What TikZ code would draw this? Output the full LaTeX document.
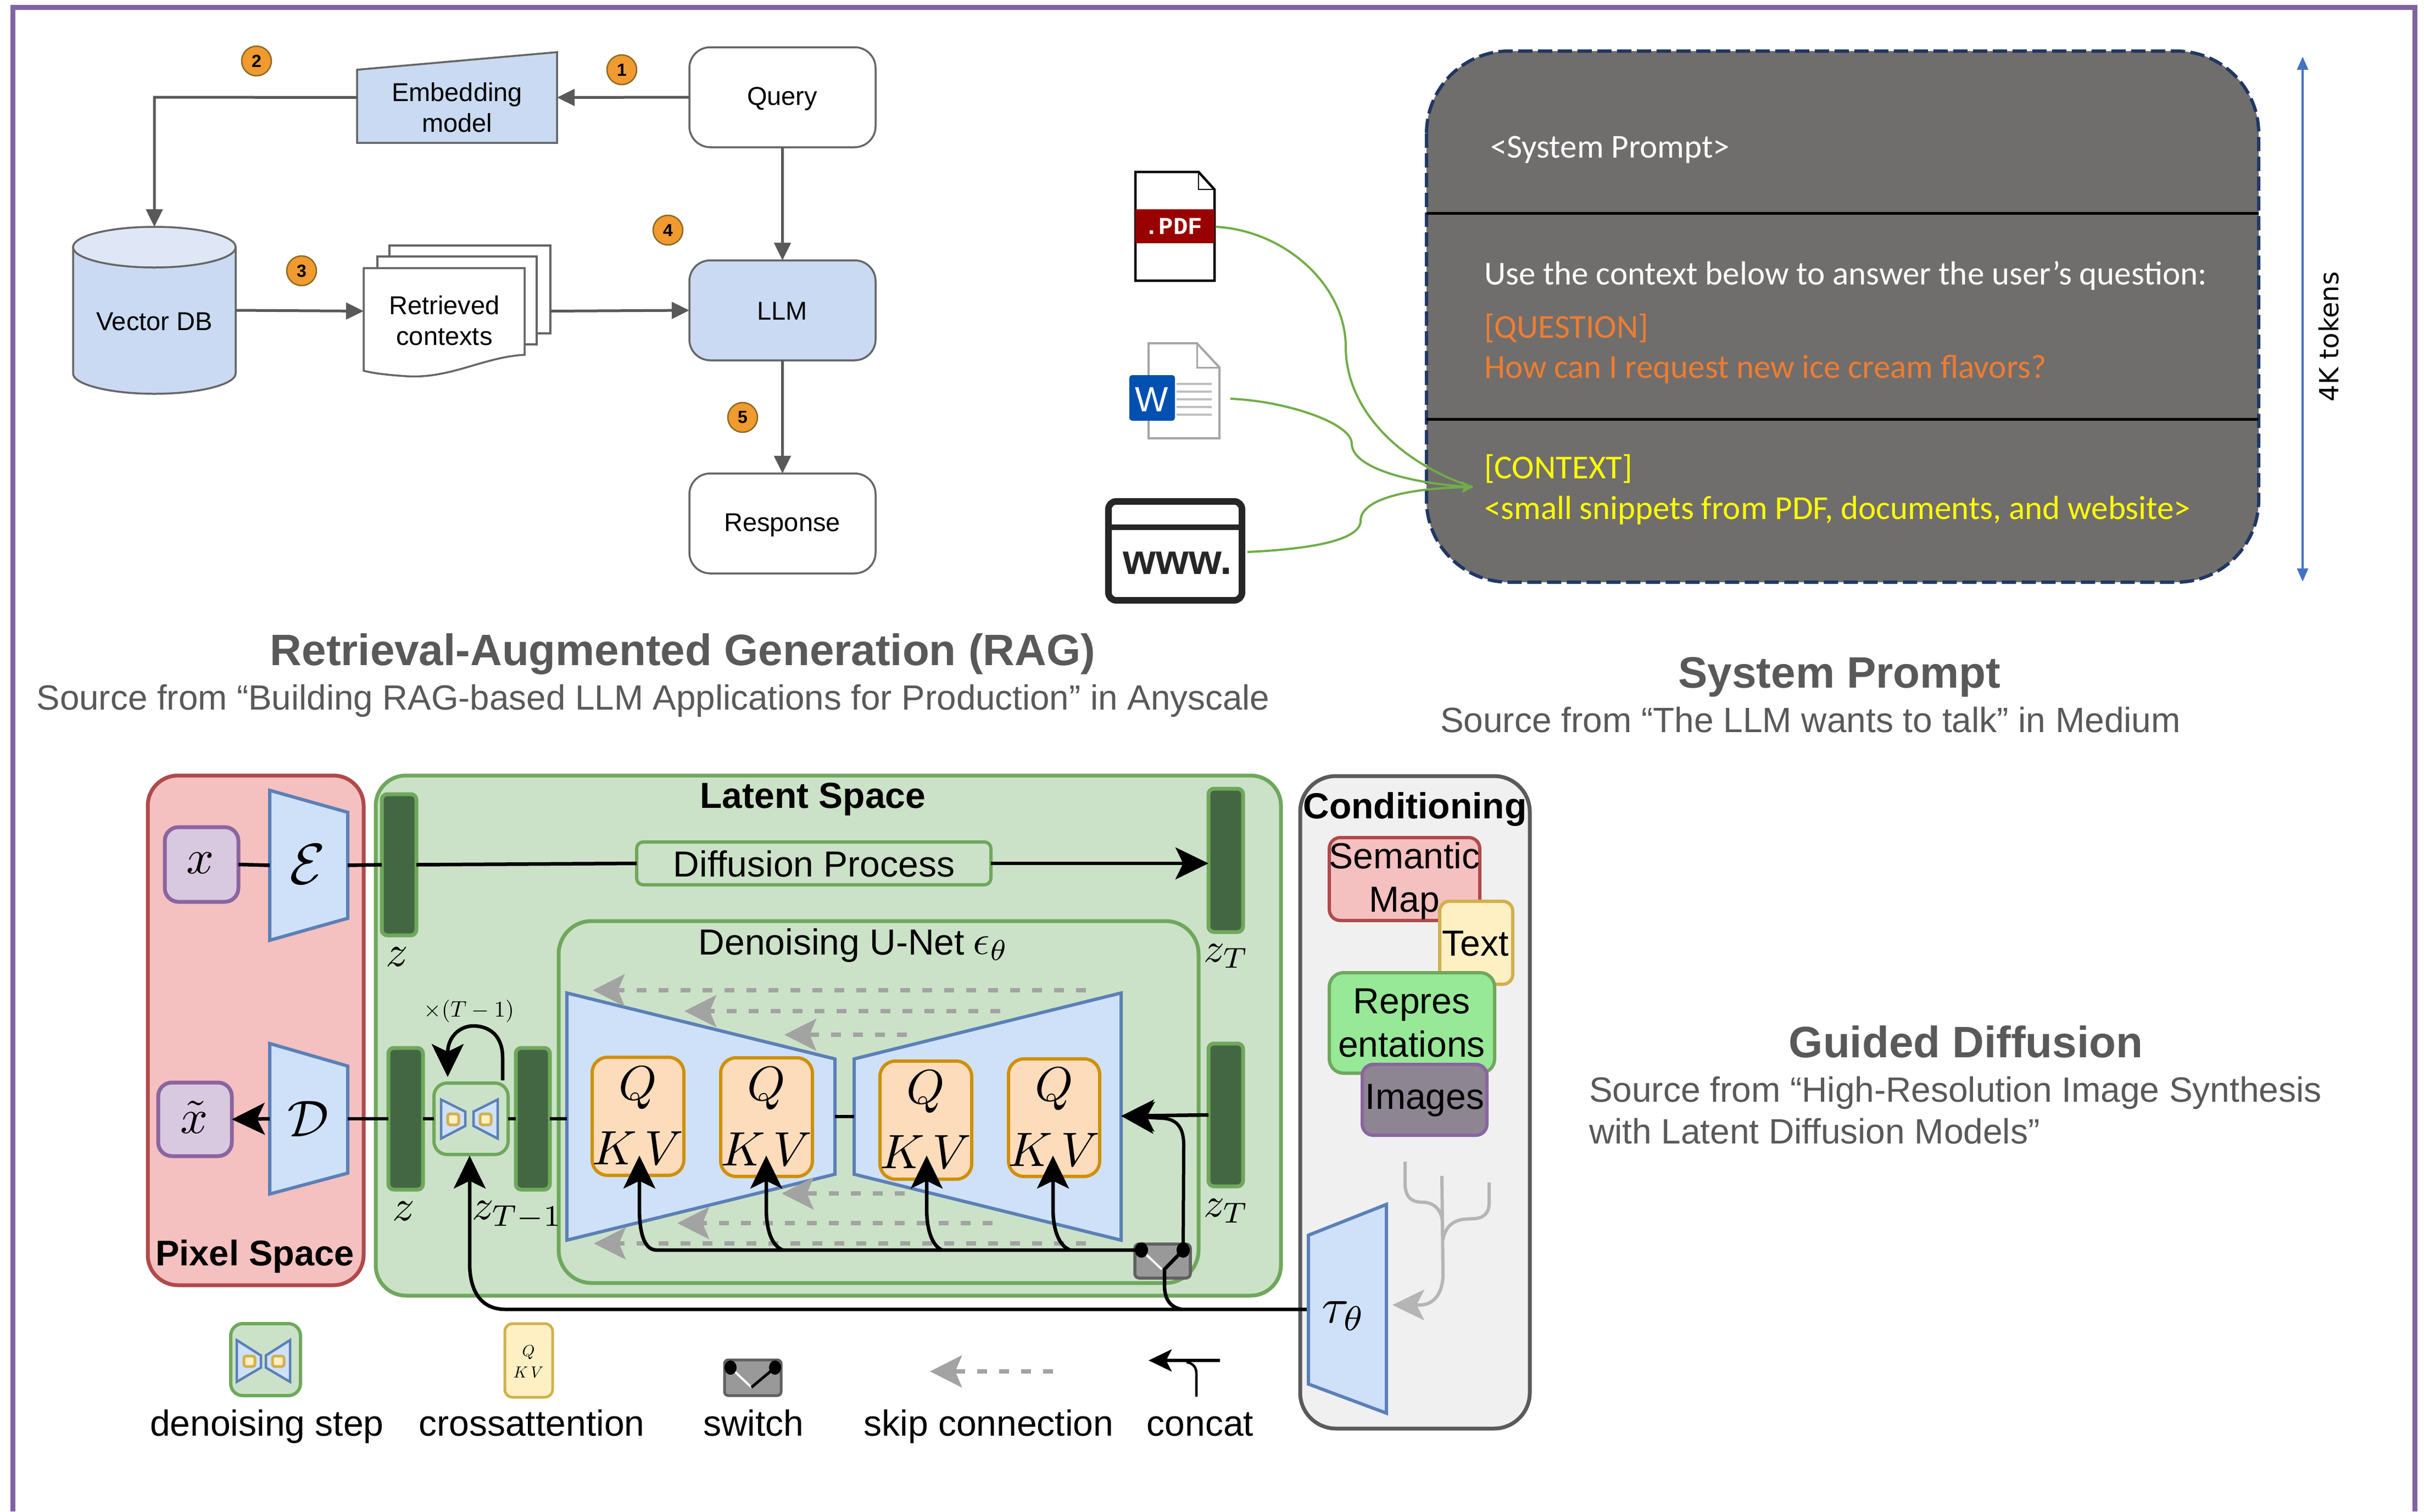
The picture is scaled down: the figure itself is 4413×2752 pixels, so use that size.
\documentclass[tikz,border=0pt]{standalone}
\usepackage{fontspec}
\setmainfont{Liberation Sans}
\newfontfamily\carl{Carlito}
\newfontfamily\dejav{DejaVu Sans}
\newfontfamily\limono{Liberation Mono}
\usetikzlibrary{arrows.meta,fit}
\definecolor{framec}{HTML}{8064A2}
\definecolor{ragblue}{HTML}{C9DAF2}
\definecolor{ragtop}{HTML}{DFE7F6}
\definecolor{ragline}{HTML}{595959}
\definecolor{ragedge}{HTML}{666666}
\definecolor{badge}{HTML}{F09A2F}
\definecolor{badgee}{HTML}{8A6A20}
\definecolor{titlec}{HTML}{595959}
\definecolor{promptfill}{HTML}{706D6D}
\definecolor{promptedge}{HTML}{1F3864}
\definecolor{qorange}{HTML}{ED7D31}
\definecolor{cyellow}{HTML}{FFFF00}
\definecolor{tokblue}{HTML}{4472C4}
\definecolor{curvegreen}{HTML}{70AD47}
\definecolor{pixfill}{HTML}{F5C0C0}
\definecolor{pixedge}{HTML}{B04A4A}
\definecolor{latfill}{HTML}{CCE2C8}
\definecolor{latedge}{HTML}{6FA85C}
\definecolor{purfill}{HTML}{D9C9E0}
\definecolor{puredge}{HTML}{8A65A0}
\definecolor{trapfill}{HTML}{CFE1F8}
\definecolor{trapedge}{HTML}{5B80B8}
\definecolor{barfill}{HTML}{446743}
\definecolor{qfill}{HTML}{FDDCBC}
\definecolor{qedge}{HTML}{CF9008}
\definecolor{txtfill}{HTML}{FFF0C4}
\definecolor{txtedge}{HTML}{D2B04C}
\definecolor{repfill}{HTML}{97E897}
\definecolor{imgfill}{HTML}{8D8591}
\definecolor{condfill}{HTML}{F0F0F0}
\definecolor{condedge}{HTML}{5A5A5A}
\definecolor{skipc}{HTML}{A3A3A3}
\definecolor{treec}{HTML}{B5B5B5}
\definecolor{swfill}{HTML}{999999}
\definecolor{swedge}{HTML}{606060}
\newcommand{\fz}[1]{\fontsize{#1}{#1}\selectfont}
\tikzset{
  every node/.style={inner sep=0pt,outer sep=0pt},
  ragbox/.style={draw=ragedge,line width=3.5pt,rounded corners=38pt,fit={#1}},
  ragtxt/.style={font=\fz{47},align=center},
  ragarrow/.style={draw=ragline,line width=5pt,-{Triangle[length=32pt,width=30pt]}},
  ragpoly/.style={draw=ragedge,line width=3.5pt},
  badgec/.style={circle,draw=badgee,line width=2.5pt,fill=badge,minimum size=54pt,font=\fz{32}\bfseries},
  titlebig/.style={text=titlec,font=\fz{80}\bfseries,anchor=base},
  titlesrc/.style={text=titlec,font=\fz{64}},
  titlesrcb/.style={text=titlec,font=\fz{63.7}},
  sys/.style={font=\carl\fz{61},anchor=base west},
  gcurve/.style={draw=curvegreen,line width=4pt},
  panel/.style={draw=#1,line width=7pt},
  trap/.style={draw=trapedge,fill=trapfill,line width=6pt},
  blk/.style={draw=black,line width=6.5pt},
  blkarrow/.style={blk,-{Stealth[length=60pt,width=58pt,inset=14pt]}},
  skipline/.style={draw=skipc,line width=8pt,dash pattern=on 18pt off 22pt,-{Stealth[length=58pt,width=58pt,inset=12pt,color=skipc]}},
  latentbar/.style={draw=latedge,fill=barfill,line width=7pt,rounded corners=10pt,fit={#1}},
  qbox/.style={draw=qedge,fill=qfill,line width=6pt,rounded corners=28pt,fit={#1}},
  mth/.style={scale=#1},
  cnd/.style={font=\fz{66},align=center},
  lgd/.style={font=\fz{66},anchor=base},
  treeline/.style={draw=treec,line width=6pt},
}
\begin{document}
\begin{tikzpicture}[x=1pt,y=-1pt]
\useasboundingbox (0,0) rectangle (4413,2752);
\fill[white] (0,0) rectangle (4413,2752);
% frame
\coordinate (fa) at (23,2752);\coordinate (fb) at (23,13);\coordinate (fc) at (4396,13);\coordinate (fd) at (4396,2752);
\draw[framec,line width=9pt] (fa) -- (fb) -- (fc) -- (fd);

% ---------- RAG ----------
\node[ragbox={(1255,86)(1594,268)}] (query) {};
\node[ragtxt] (queryt) at (1424,180) {Query};
\node[ragbox={(1255,474)(1594,656)},fill=ragblue] (llm) {};
\node[ragtxt] (llmt) at (1424,566) {LLM};
\node[ragbox={(1255,862)(1594,1044)}] (resp) {};
\node[ragtxt] (respt) at (1424,956) {Response};
\draw[ragpoly,fill=ragblue] (650,127) -- (1014,95) -- (1014,260) -- (650,260) -- cycle;
\node[fit={(650,95)(1014,260)}] (emb) {};
\node[ragtxt] (embt) at (832,196) {Embedding\\[9pt]model};
% cylinder
\draw[ragpoly,fill=ragblue] (133,450) -- (133,680) .. controls (133,700) and (200,717) .. (281,717) .. controls (362,717) and (429,700) .. (429,680) -- (429,450) -- cycle;
\draw[ragpoly,fill=ragtop] (281,450) ellipse [x radius=148,y radius=37];
\node[fit={(133,413)(429,717)}] (db) {};
\node[ragtxt] (dbt) at (281,586) {Vector DB};
% pages
\draw[ragpoly,fill=white] (709,447) -- (1002,447) -- (1002,607) -- (709,607) -- cycle;
\draw[ragpoly,fill=white] (687,467) -- (977,467) -- (977,627) -- (687,627) -- cycle;
\draw[ragpoly,fill=white] (662,488) -- (955,488) -- (955,646) .. controls (880,650) and (820,690) .. (740,685) .. controls (710,683) and (680,680) .. (662,675) -- cycle;
\node[fit={(662,447)(1002,686)}] (ctx) {};
\node[ragtxt] (ctxt) at (809,584) {Retrieved\\[9pt]contexts};
\coordinate (bend) at (281,177);
\draw[ragarrow] (query.west) -- (emb.east);
\draw[draw=ragline,line width=5pt,-{Triangle[length=32pt,width=30pt]}] (emb.west) -- (bend) -- (db.north);
\draw[ragarrow] (db.east) -- (ctx.west);
\draw[ragarrow] (ctx.east) -- (llm.west);
\draw[ragarrow] (query.south) -- (llm.north);
\draw[ragarrow] (llm.south) -- (resp.north);
\node[badgec] (b1) at (1132,127) {1};
\node[badgec] (b2) at (467,111) {2};
\node[badgec] (b3) at (549,493) {3};
\node[badgec] (b4) at (1216,419) {4};
\node[badgec] (b5) at (1352,760) {5};
\node[titlebig] (t1) at (1243,1211) {Retrieval-Augmented Generation (RAG)};
\node[titlesrcb,anchor=base] (s1) at (1189,1292) {Source from “Building RAG-based LLM Applications for Production” in Anyscale};

% ---------- System prompt ----------
\draw[promptedge,fill=promptfill,line width=6pt,dash pattern=on 26pt off 10pt,rounded corners=150pt] (2597,93) rectangle (4112,1060);
\node[fit={(2597,93)(4112,1060)}] (sp) {};
\coordinate (l1a) at (2597,388);\coordinate (l1b) at (4112,388);\coordinate (l2a) at (2597,763);\coordinate (l2b) at (4112,763);
\draw[black,line width=5pt] (l1a) -- (l1b);
\draw[black,line width=5pt] (l2a) -- (l2b);
\node[sys,text=white] (p1) at (2713,287) {<System Prompt>};
\node[sys,text=white] (p2) at (2702,518) {Use the context below to answer the user’s question:};
\node[sys,text=qorange] (p3) at (2702,615) {[QUESTION]};
\node[sys,text=qorange] (p4) at (2702,688) {How can I request new ice cream flavors?};
\node[sys,text=cyellow] (p5) at (2702,871) {[CONTEXT]};
\node[sys,text=cyellow] (p6) at (2702,945) {<small snippets from PDF, documents, and website>};
\coordinate (tka) at (4192,1059);\coordinate (tkb) at (4192,103);
\draw[tokblue,line width=3.5pt,{Triangle[length=24pt,width=20pt]}-{Triangle[length=24pt,width=20pt]}] (tka) -- (tkb);
\node[rotate=90,font=\dejav\fz{48}] (tok) at (4240,613) {4K tokens};
% PDF icon
\draw[black,line width=4.5pt,fill=white] (2067,313) -- (2182,313) -- (2211,345) -- (2211,511) -- (2067,511) -- cycle;
\draw[black,line width=2.5pt] (2182,313) -- (2182,345) -- (2211,345);
\fill[red!60!black] (2067,381) rectangle (2211,443);
\node[font=\limono\bfseries\fz{44},text=white] (pdft) at (2136,412) {.PDF};
\node[fit={(2067,313)(2211,511)}] (pdf) {};
% Word icon
\draw[black!35,line width=4pt,fill=white] (2091,625) -- (2179,625) -- (2220,669) -- (2220,798) -- (2091,798) -- cycle;
\draw[black!35,line width=3pt] (2179,625) -- (2179,669) -- (2220,669);
\foreach \yy in {699,713,727,741,755}{\draw[black!25,line width=3.5pt] (2142,\yy) -- (2206,\yy);}
\fill[blue!55!cyan!70!black,rounded corners=5pt] (2056,683) rectangle (2139,766);
\node[font=\fz{64},text=white] (wt) at (2097,727) {W};
\node[fit={(2056,625)(2220,798)}] (word) {};
% www icon
\draw[black!85,line width=12pt,fill=white,rounded corners=14pt] (2018,913) rectangle (2261,1093);
\fill[black!85] (2018,955) rectangle (2261,965);
\fill[white] (2238,936) circle [radius=12];
\node[font=\fz{77}\bfseries,text=black!85] (wwwt) at (2144,1025) {www.};
\node[fit={(2012,907)(2267,1099)}] (www) {};
% green curves
\coordinate (cin) at (2681,887);
\coordinate (c1) at (2214,413);\coordinate (c2) at (2240,726);\coordinate (c3) at (2271,1005);
\draw[gcurve] (c1) .. controls (2340,420) and (2450,520) .. (2450,632) .. controls (2450,740) and (2540,840) .. (cin);
\draw[gcurve] (c2) .. controls (2340,730) and (2461,770) .. (2461,808) .. controls (2461,850) and (2560,880) .. (cin);
\draw[gcurve] (c3) .. controls (2380,1000) and (2477,985) .. (2477,948) .. controls (2477,905) and (2580,887) .. (cin);
\fill[curvegreen] (cin) -- (2661,876) -- (2665,887) -- (2661,898) -- cycle;
\node[titlebig] (t2) at (3349,1252) {System Prompt};
\node[titlesrc,anchor=base] (s2) at (3296,1333) {Source from “The LLM wants to talk” in Medium};
\node[titlebig] (t3) at (3579,1925) {Guided Diffusion};
\node[titlesrc,anchor=base west] (s3a) at (2893,2006) {Source from “High-Resolution Image Synthesis};
\node[titlesrc,anchor=base west] (s3b) at (2893,2082) {with Latent Diffusion Models”};

% ---------- Guided diffusion ----------
\node[panel=pixedge,fill=pixfill,rounded corners=55pt,fit={(269,1412)(662,2340)}] (pix) {};
\node[panel=latedge,fill=latfill,rounded corners=55pt,fit={(684,1412)(2332,2359)}] (lat) {};
\node[panel=latedge,fill=latfill,rounded corners=60pt,fit={(1017,1677)(2182,2336)}] (unet) {};
\node[panel=condedge,fill=condfill,rounded corners=65pt,fit={(2367,1413)(2785,2601)}] (cond) {};
\node[font=\fz{65}\bfseries] (pixt) at (464,2288) {Pixel Space};
\node[font=\fz{66}\bfseries] (latt) at (1480,1455) {Latent Space};
\node[font=\fz{66}\bfseries] (condt) at (2576,1474) {Conditioning};
\node[font=\fz{66}] (unett) at (1514,1721) {Denoising U-Net};
\node[mth=7.5] (unete) at (1804,1727) {$\epsilon_\theta$};
% left column
\node[panel=puredge,fill=purfill,rounded corners=25pt,fit={(300,1506)(434,1642)}] (xb) {};
\node[mth=8.8] (xbt) at (365,1572) {$x$};
\node[panel=puredge,fill=purfill,rounded corners=25pt,fit={(288,1971)(422,2105)}] (xt) {};
\node[mth=8.8] (xtt) at (354,2034) {$\tilde{x}$};
\draw[trap] (491,1439) -- (633,1479) -- (633,1672) -- (491,1712) -- cycle;
\node[fit={(491,1439)(633,1712)}] (enc) {};
\node[mth=10.5] (enct) at (560,1574) {$\mathcal{E}$};
\draw[trap] (491,1900) -- (633,1941) -- (633,2136) -- (491,2174) -- cycle;
\node[fit={(491,1900)(633,2174)}] (dec) {};
\node[mth=9.4] (dect) at (561,2037) {$\mathcal{D}$};
% bars
\node[latentbar={(695,1446)(758,1703)}] (z1) {};
\node[latentbar={(707,1908)(770,2166)}] (z2) {};
\node[latentbar={(939,1908)(1001,2166)}] (ztm) {};
\node[latentbar={(2200,1436)(2263,1697)}] (zt1) {};
\node[latentbar={(2200,1900)(2263,2160)}] (zt2) {};
\node[mth=8] (z1t) at (723,1742) {$z$};
\node[mth=8] (z2t) at (735,2205) {$z$};
\node[mth=7.8] (ztmt) at (942,2213) {$z_{T-1}$};
\node[mth=7.5] (zt1t) at (2233,1741) {$z_T$};
\node[mth=7.5] (zt2t) at (2233,2205) {$z_T$};
\node[mth=4.1] (rept) at (854,1841) {$\times(T-1)$};
% diffusion process
\node[draw=latedge,fill=latfill,line width=6pt,rounded corners=12pt,fit={(1159,1533)(1804,1611)}] (dp) {};
\node[font=\fz{66}] (dpt) at (1482,1573) {Diffusion Process};
% denoise step
\node[draw=latedge,fill=latfill,line width=6pt,rounded corners=24pt,fit={(790,1972)(925,2102)}] (ds) {};
\draw[trap,line width=4.5pt] (803,2002) -- (847,2024) -- (847,2050) -- (803,2073) -- cycle;
\draw[trap,line width=4.5pt] (906,2002) -- (862,2024) -- (862,2050) -- (906,2073) -- cycle;
\draw[txtedge,fill=txtfill,line width=5pt,rounded corners=4pt] (815,2028) rectangle (835,2048);
\draw[txtedge,fill=txtfill,line width=5pt,rounded corners=4pt] (874,2028) rectangle (894,2048);
% U-Net trapezoids
\draw[trap] (1032,1808) -- (1520,1928) -- (1520,2138) -- (1032,2258) -- cycle;
\node[fit={(1032,1808)(1520,2258)}] (ltr) {};
\draw[trap] (2041,1808) -- (1555,1928) -- (1555,2138) -- (2041,2258) -- cycle;
\node[fit={(1555,1808)(2041,2258)}] (rtr) {};
% skip connections
\coordinate (sk1r) at (1977,1803);\coordinate (sk1l) at (1079,1803);
\coordinate (sk2r) at (1821,1841);\coordinate (sk2l) at (1246,1841);
\coordinate (sk3r) at (1651,1884);\coordinate (sk3l) at (1428,1884);
\coordinate (sk4r) at (1647,2173);\coordinate (sk4l) at (1423,2173);
\coordinate (sk5r) at (1807,2227);\coordinate (sk5l) at (1233,2227);
\coordinate (sk6r) at (1977,2264);\coordinate (sk6l) at (1081,2264);
\foreach \k in {1,...,6}{\draw[skipline] (sk\k r) -- (sk\k l);}
% QKV boxes
\foreach \nm/\xa/\xb/\ya/\yb in {q1/1078/1245/1925/2140,q2/1312/1479/1926/2142,q3/1602/1769/1932/2147,q4/1836/2002/1928/2142}{
  \node[qbox={(\xa,\ya)(\xb,\yb)}] (\nm) {};
  \node[mth=8.8,align=center] (\nm t) at ([yshift=1pt]\nm.center) {$Q$\\[1.5pt]$K\,V$};
}
% straight connectors
\draw[blk] (xb.east) -- (enc.west);
\draw[blk] (enc.east) -- (z1.west);
\draw[blk] (z1.east) -- (dp.west);
\draw[blkarrow] (dp.east) -- (zt1.west|-dp.east);
\draw[blkarrow] (dec.west) -- (xt.east);
\draw[blk] (dec.east) -- (z2.west);
\draw[blk] (z2.east) -- (ds.west);
\draw[blk] (ds.east) -- (ztm.west);
\draw[blk] (ztm.east) -- (ltr.west|-ztm.east);
\coordinate (mida) at (1520,2033);\coordinate (midb) at (1555,2033);
\draw[blk] (mida) -- (midb);
\coordinate (rin) at (2041,2032);
\draw[blkarrow] (zt2.west) -- (rin);
% loop
\coordinate (loopa) at (915,1967);\coordinate (loopb) at (815,1961);
\draw[blkarrow] (loopa) -- (915,1925) .. controls (915,1885) and (890,1868) .. (862,1868) .. controls (835,1868) and (815,1890) .. (loopb);
% switch
\node[draw=swedge,fill=swfill,line width=5.5pt,rounded corners=8pt,fit={(2066,2265)(2167,2327)}] (sw) {};
\coordinate (swl) at (2078,2276);\coordinate (swr) at (2154,2276);\coordinate (swm) at (2120,2311);
\draw[white,line width=4pt] (swl) -- (2115,2311);
% concat lines
\coordinate (tauin) at (2380,2384);
\coordinate (dsin) at (855,2104);
\draw[blk] (tauin) -- (2151,2384) .. controls (2130,2380) and (2120,2365) .. (2120,2340) -- (swm) -- (swr);
\draw[blkarrow] (2151,2384) -- (920,2384) .. controls (875,2384) and (855,2350) .. (855,2300) -- (dsin);
\draw[blkarrow,line width=6pt] (swr) -- (2155,2085) .. controls (2155,2050) and (2140,2037) .. (2115,2036) -- (rin);
\coordinate (qa1) at (1164,2104);\coordinate (qa2) at (1395,2104);\coordinate (qa3) at (1687,2104);\coordinate (qa4) at (1917,2104);
\draw[blkarrow] (swl) -- (1195,2276) .. controls (1175,2276) and (1164,2250) .. (1164,2200) -- (qa1);
\draw[blkarrow] (1425,2276) .. controls (1405,2268) and (1395,2240) .. (1395,2200) -- (qa2);
\draw[blkarrow] (1715,2276) .. controls (1697,2268) and (1687,2240) .. (1687,2200) -- (qa3);
\draw[blkarrow] (1948,2276) .. controls (1928,2268) and (1917,2240) .. (1917,2200) -- (qa4);
\fill[black] (swl) ellipse [x radius=12,y radius=14];
\fill[black] (swr) ellipse [x radius=12,y radius=14];
% conditioning children
\node[draw=pixedge,fill=pixfill,line width=6pt,rounded corners=20pt,fit={(2420,1525)(2694,1676)}] (sem) {};
\node[cnd] (semt) at (2557,1604) {Semantic\\[13pt]Map};
\node[draw=txtedge,fill=txtfill,line width=6pt,rounded corners=18pt,fit={(2621,1641)(2754,1792)}] (tx) {};
\node[cnd] (txt) at (2686,1718) {Text};
\node[draw=latedge,fill=repfill,line width=6pt,rounded corners=26pt,fit={(2420,1771)(2721,1954)}] (rep) {};
\node[cnd] (rept2) at (2570,1863) {Repres\\[13pt]entations};
\node[draw=puredge,fill=imgfill,line width=6pt,rounded corners=20pt,fit={(2480,1938)(2707,2067)}] (img) {};
\node[cnd] (imgt) at (2594,2004) {Images};
% tree
\coordinate (tra) at (2558,2115);\coordinate (trb) at (2625,2141);\coordinate (trc) at (2711,2153);\coordinate (trout) at (2535,2376);
\draw[treeline,-{Stealth[length=58pt,width=56pt,inset=14pt,color=treec]}] (trb) -- (2627,2320) .. controls (2627,2355) and (2610,2376) .. (2585,2376) -- (trout);
\draw[treeline] (tra) -- (2558,2155) .. controls (2558,2180) and (2570,2189) .. (2590,2189) .. controls (2612,2189) and (2625,2205) .. (2626,2225);
\draw[treeline] (trc) -- (2711,2190) .. controls (2711,2210) and (2700,2219) .. (2680,2219) -- (2665,2220) .. controls (2645,2222) and (2630,2235) .. (2627,2258);
% tau
\draw[trap] (2382,2249) -- (2524,2193) -- (2524,2573) -- (2382,2520) -- cycle;
\node[mth=9] (taut) at (2446,2396) {$\tau_\theta$};
% legend
\node[draw=latedge,fill=latfill,line width=6pt,rounded corners=22pt,fit={(420,2410)(547,2541)}] (lg1) {};
\draw[trap,line width=4.5pt] (431,2440) -- (475,2468) -- (475,2490) -- (431,2516) -- cycle;
\draw[trap,line width=4.5pt] (528,2440) -- (484,2468) -- (484,2490) -- (528,2516) -- cycle;
\draw[txtedge,fill=txtfill,line width=5pt,rounded corners=4pt] (444,2469) rectangle (464,2488);
\draw[txtedge,fill=txtfill,line width=5pt,rounded corners=4pt] (496,2469) rectangle (517,2488);
\node[draw=txtedge,fill=txtfill,line width=5pt,rounded corners=14pt,fit={(919,2410)(1006,2544)}] (lg2) {};
\node[mth=2.9,align=center] (lg2t) at (962,2479) {$Q$\\[1.5pt]$K\,V$};
\node[draw=swedge,fill=swfill,line width=5pt,rounded corners=7pt,fit={(1319,2476)(1422,2541)}] (lg3) {};
\coordinate (lgsa) at (1330,2490);\coordinate (lgsb) at (1411,2490);\coordinate (lgsm) at (1368,2526);
\draw[white,line width=4pt] (lgsa) -- (lgsm);
\draw[black,line width=5pt] (lgsb) -- (lgsm);
\fill[black] (lgsa) ellipse [x radius=11,y radius=13];
\fill[black] (lgsb) ellipse [x radius=11,y radius=13];
\coordinate (lgkr) at (1917,2497);\coordinate (lgkl) at (1693,2497);
\draw[skipline] (lgkr) -- (lgkl);
\coordinate (lgcr) at (2221,2477);\coordinate (lgcl) at (2091,2477);\coordinate (lgcb) at (2178,2543);
\draw[blk,-{Stealth[length=42pt,width=40pt,inset=10pt]}] (lgcr) -- (lgcl);
\draw[black,line width=4.5pt] (lgcb) -- (2178,2500) .. controls (2178,2490) and (2172,2482) .. (2160,2480);
\node[lgd] (l1) at (486,2614) {denoising step};
\node[lgd] (l2) at (968,2614) {crossattention};
\node[lgd] (l3) at (1372,2614) {switch};
\node[lgd] (l4) at (1800,2614) {skip connection};
\node[lgd] (l5) at (2185,2614) {concat};
\end{tikzpicture}
\end{document}
